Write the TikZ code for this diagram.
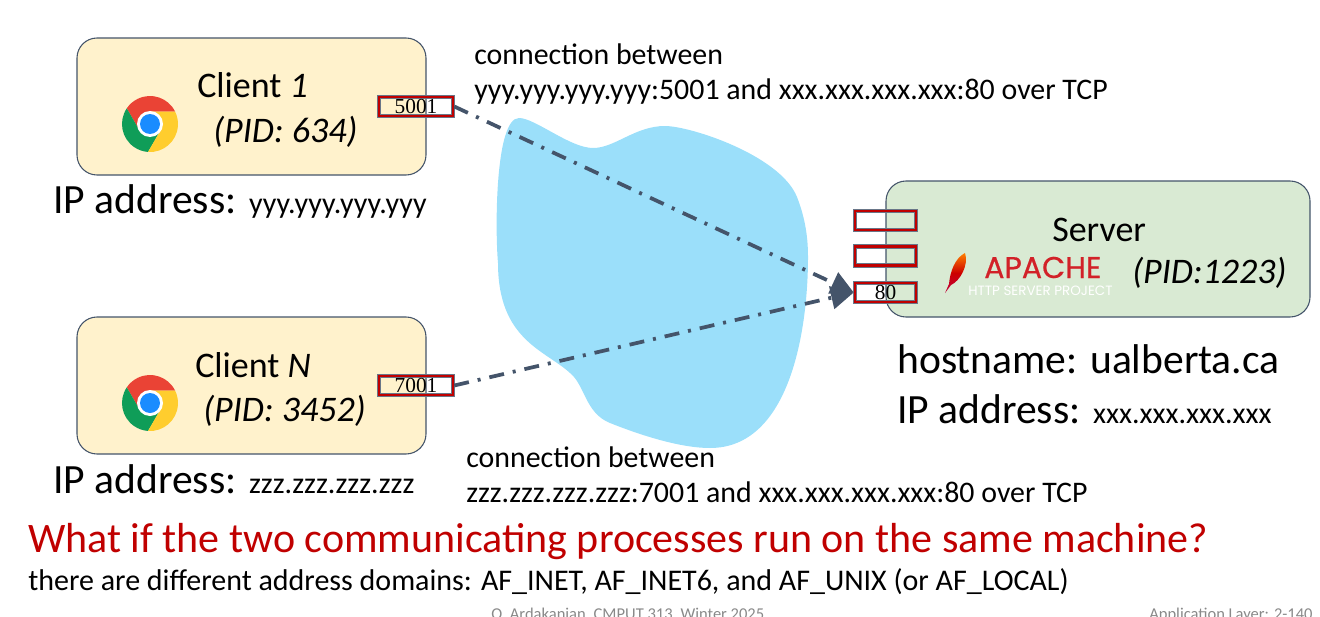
\documentclass[tikz,border=0pt]{standalone}
\usepackage{fontspec}
\setmainfont{Carlito}
\newfontfamily\portfont{Liberation Serif}
\newfontfamily\logofont{Poppins}
\newfontfamily\logoboldfont[FakeBold=0.5]{Poppins}
\usetikzlibrary{arrows.meta}
\definecolor{clientfill}{HTML}{FFF2CC}
\definecolor{serverfill}{HTML}{D9EAD3}
\definecolor{slateline}{HTML}{44546A}
\definecolor{portred}{HTML}{C00000}
\definecolor{cloudblue}{HTML}{9BDFFA}
\definecolor{footgray}{HTML}{898989}
\definecolor{apachered}{HTML}{D22128}
\definecolor{chromeblue}{HTML}{1A8CFF}
\tikzset{
  hostbox/.style={draw=slateline, line width=0.8pt, rounded corners=15pt, inner sep=0pt},
  clientbox/.style={hostbox, fill=clientfill, minimum width=261.75pt, minimum height=102.75pt},
  serverbox/.style={hostbox, fill=serverfill, minimum width=318pt, minimum height=102pt},
  portbox/.style={preaction={draw=slateline!80!white, line width=3.6pt}, draw=portred, line width=1.9pt,
    inner sep=0pt, minimum height=14.25pt, font=\portfont\fontsize{16}{16}\selectfont},
  linkline/.style={slateline, line width=2.8pt, dash pattern=on 11.25pt off 6.75pt on 2.25pt off 6.75pt,
    -{Triangle[length=17pt,width=17pt]}},
  bigtext/.style={anchor=base west, inner sep=0pt, font=\fontsize{31.2}{36}\selectfont},
  hosttext/.style={anchor=base west, inner sep=0pt, font=\fontsize{27}{32}\selectfont},
  midtext/.style={anchor=base west, inner sep=0pt, font=\fontsize{22.5}{27}\selectfont},
  linktext/.style={anchor=base west, inner sep=0pt, align=left, font=\fontsize{22.4}{26.25}\selectfont},
  foottext/.style={anchor=base west, inner sep=0pt, text=footgray, font=\fontsize{12.4}{14}\selectfont},
  chromelogo/.pic={
    \begin{scope}[yscale=-1]
    \foreach \sa/\col in {26/EA4335, 146/0F9D58, 266/FFCD2E} {
      \definecolor{wedgecol}{HTML}{\col}
      \fill[wedgecol] (\sa+64:12.3) -- (\sa:28) arc[start angle=\sa, delta angle=120, radius=28]
        -- (\sa+184:12.3) -- (0,0) -- cycle;
    }
    \fill[white] (0,0) circle (13);
    \fill[chromeblue] (0,0) circle (10);
    \end{scope}
  }
}
\begin{document}
\begin{tikzpicture}[x=0.75pt, y=-0.75pt]
\useasboundingbox (0,0) rectangle (1320,617);
% network cloud
\fill[cloudblue] (519,118) .. controls (535,118) and (570,148) .. (593,148)
  .. controls (615,148) and (635,126) .. (665,126)
  .. controls (690,126) and (780,155) .. (797,197)
  .. controls (806,220) and (808,240) .. (808,257)
  .. controls (808,330) and (790,448) .. (710,448)
  .. controls (680,448) and (640,435) .. (610,423)
  .. controls (585,413) and (585,385) .. (570,373)
  .. controls (545,350) and (498,340) .. (498,263)
  .. controls (495,230) and (495,118) .. (519,118) -- cycle;
% hosts
\node[clientbox] (clientone) at (251.5,106.5) {};
\node[clientbox] (clientn) at (251.5,385.5) {};
\node[serverbox] (server) at (1098,249) {};
\pic at (150,124) {chromelogo};
\pic at (150,403) {chromelogo};
% apache logo
\shade[top color=orange, bottom color=purple, middle color=red!80!black] (965,253) .. controls (955,258) and (950,272) .. (949,284)
  -- (945,293) -- (951,285) .. controls (960,281) and (969,265) .. (965,253) -- cycle;
\node[anchor=base west, inner sep=0pt, text=apachered, font=\logoboldfont\fontsize{22.5}{22.5}\selectfont] (apachename) at (984,278) {APACHE};
\node[anchor=base west, inner sep=0pt, text=white, font=\logofont\fontsize{10.1}{11}\selectfont] (apacheproject) at (968,295) {HTTP SERVER PROJECT};
% ports
\node[portbox, minimum width=55.5pt] (portone) at (416,106.5) {\raisebox{-1.5pt}{5001}};
\node[portbox, minimum width=55.5pt] (portn) at (416,385.5) {\raisebox{-1.5pt}{7001}};
\node[portbox, minimum width=45.75pt] (porta) at (885.5,220.5) {};
\node[portbox, minimum width=45.75pt] (portb) at (885.5,256) {};
\node[portbox, minimum width=45.75pt] (portweb) at (885.5,292.5) {\raisebox{-1.5pt}{80}};
% connections
\draw[linkline] (portone.east) -- (portweb.west);
\draw[linkline] (portn.east) -- (portweb.west);
% host labels
\node[hosttext] (clientonename) at (197,98) {Client \textit{1}};
\node[hosttext] (clientonepid) at (213,142) {\textit{(PID: 634)}};
\node[hosttext] (clientnname) at (195,377) {Client \textit{N}};
\node[hosttext] (clientnpid) at (203,421) {\textit{(PID: 3452)}};
\node[hosttext] (servername) at (1052,241) {Server};
\node[hosttext] (serverpid) at (1132,283) {\textit{(PID:1223)}};
% addresses
\node[bigtext] (clientoneaddr) at (53,213) {IP address: {\fontsize{22.5}{27}\selectfont yyy.yyy.yyy.yyy}};
\node[bigtext] (clientnaddr) at (53,493) {IP address: {\fontsize{22.5}{27}\selectfont zzz.zzz.zzz.zzz}};
\node[bigtext] (serverhost) at (897,373) {hostname: ualberta.ca};
\node[bigtext] (serveraddr) at (897,423) {IP address: {\fontsize{22.5}{27}\selectfont xxx.xxx.xxx.xxx}};
\node[linktext] (linkone) at (474,99) {connection between\\yyy.yyy.yyy.yyy:5001 and xxx.xxx.xxx.xxx:80 over TCP};
\node[linktext] (linkn) at (466,502) {connection between\\zzz.zzz.zzz.zzz:7001 and xxx.xxx.xxx.xxx:80 over TCP};
% question
\node[bigtext, text=portred, font=\fontsize{31.5}{38}\selectfont] (question) at (28,552) {What if the two communicating processes run on the same machine?};
\node[midtext] (domains) at (28,590) {there are different address domains: AF\_INET, AF\_INET6, and AF\_UNIX (or AF\_LOCAL)};
% footer
\node[foottext] (footleft) at (491,619) {O. Ardakanian, CMPUT 313, Winter 2025};
\node[foottext] (footright) at (1149,619) {Application Layer: 2-140};
\end{tikzpicture}
\end{document}
